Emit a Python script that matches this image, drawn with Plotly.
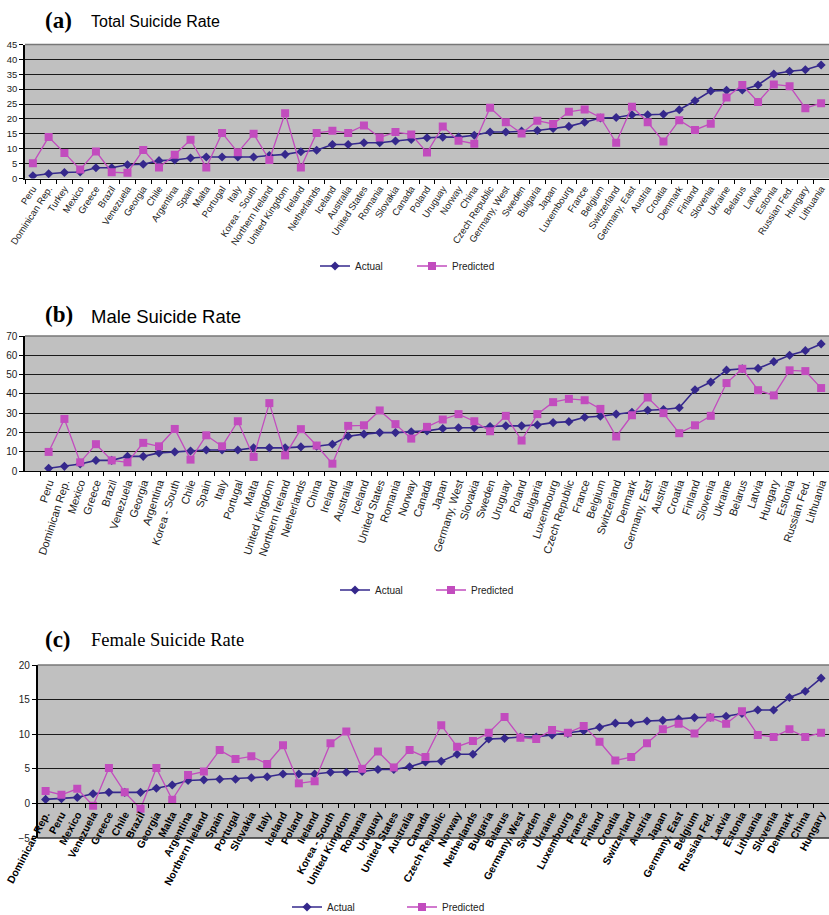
import plotly.graph_objects as go

W, H = 829, 915

# ---------------- Panel (a): Total ----------------
cats_total = ["Peru", "Dominican Rep.", "Turkey", "Mexico", "Greece", "Brazil", "Venezuela",
              "Georgia", "Chile", "Argentina", "Spain", "Malta", "Portugal", "Italy",
              "Korea - South", "Northern Ireland", "United Kingdom", "Ireland", "Netherlands",
              "Iceland", "Australia", "United States", "Romania", "Slovakia", "Canada", "Poland",
              "Uruguay", "Norway", "China", "Czech Republic", "Germany, West", "Sweden",
              "Bulgaria", "Japan", "Luxembourg", "France", "Belgium", "Switzerland",
              "Germany, East", "Austria", "Croatia", "Denmark", "Finland", "Slovenia",
              "Ukraine", "Belarus", "Latvia", "Estonia", "Russian Fed.", "Hungary", "Lithuania"]
total_actual = [0.9, 1.6, 2.0, 2.2, 3.6, 3.6, 4.6, 4.8, 6.0, 6.2, 6.9, 7.2, 7.2, 7.2, 7.2, 7.7,
                8.1, 9.0, 9.5, 11.4, 11.4, 12.0, 12.0, 12.6, 13.1, 13.7, 13.9, 13.9, 14.5, 15.6,
                15.6, 15.9, 16.1, 16.8, 17.5, 18.9, 20.3, 20.5, 21.4, 21.4, 21.6, 23.1, 26.1,
                29.4, 29.6, 29.7, 31.4, 35.1, 36.0, 36.5, 38.1]
total_pred = [5.1, 13.9, 8.6, 3.0, 9.1, 2.1, 1.9, 9.6, 3.7, 8.0, 13.0, 3.7, 15.3, 8.8, 15.0, 6.2,
              21.9, 3.7, 15.3, 16.0, 15.3, 17.8, 13.8, 15.6, 14.8, 8.7, 17.5, 12.7, 11.7, 23.8,
              18.9, 15.1, 19.4, 18.3, 22.4, 23.2, 20.5, 12.0, 24.1, 18.9, 12.4, 19.6, 16.3,
              18.4, 27.2, 31.4, 25.7, 31.6, 31.0, 23.6, 25.3]
total_yticks = [0, 5, 10, 15, 20, 25, 30, 35, 40, 45]

# ---------------- Panel (b): Male ----------------
cats_male = ["Peru", "Dominican Rep.", "Mexico", "Greece", "Brazil", "Venezuela", "Georgia",
             "Argentina", "Korea - South", "Chile", "Spain", "Italy", "Portugal", "Malta",
             "United Kingdom", "Northern Ireland", "Netherlands", "China", "Ireland",
             "Australia", "Iceland", "United States", "Romania", "Norway", "Canada", "Japan",
             "Germany, West", "Slovakia", "Sweden", "Uruguay", "Poland", "Bulgaria",
             "Luxembourg", "Czech Republic", "France", "Belgium", "Switzerland", "Denmark",
             "Germany, East", "Austria", "Croatia", "Finland", "Slovenia", "Ukraine", "Belarus",
             "Latvia", "Hungary", "Estonia", "Russian Fed.", "Lithuania"]
male_actual = [1.4, 2.4, 3.6, 5.5, 5.5, 7.6, 7.6, 9.4, 9.9, 10.4, 10.9, 10.9, 10.9, 12.0, 12.0,
               12.0, 12.5, 12.8, 13.9, 18.0, 19.1, 19.9, 19.9, 20.3, 20.8, 22.0, 22.4, 22.4,
               23.1, 23.4, 23.4, 23.9, 25.1, 25.6, 27.9, 28.4, 29.5, 30.5, 31.5, 31.9, 32.8,
               42.1, 46.1, 52.3, 53.0, 53.2, 56.7, 60.0, 62.4, 65.9]
male_pred = [9.9, 27.0, 4.5, 13.9, 5.5, 4.5, 14.6, 12.8, 21.8, 5.9, 18.5, 12.8, 25.8, 7.3, 35.2,
             8.1, 21.7, 13.2, 3.8, 23.4, 23.7, 31.4, 24.3, 16.8, 22.9, 26.7, 29.5, 25.8, 20.6,
             28.6, 15.8, 29.5, 35.7, 37.4, 36.7, 32.2, 17.9, 28.9, 38.1, 30.0, 19.6, 23.7,
             28.6, 45.6, 53.0, 41.9, 39.2, 52.2, 51.8, 43.0]
male_yticks = [0, 10, 20, 30, 40, 50, 60, 70]

# ---------------- Panel (c): Female ----------------
cats_female = ["Dominican Rep.", "Peru", "Mexico", "Venezuela", "Greece", "Chile", "Brazil",
               "Georgia", "Malta", "Argentina", "Northern Ireland", "Spain", "Portugal",
               "Slovakia", "Italy", "Iceland", "Poland", "Ireland", "Korea - South",
               "United Kingdom", "Romania", "Uruguay", "United States", "Australia", "Canada",
               "Czech Republic", "Norway", "Netherlands", "Bulgaria", "Belarus", "Germany, West",
               "Sweden", "Ukraine", "Luxembourg", "France", "Finland", "Croatia", "Switzerland",
               "Austria", "Japan", "Germany, East", "Belgium", "Russian Fed.", "Latvia",
               "Estonia", "Lithuania", "Slovenia", "Denmark", "China", "Hungary"]
female_actual = [0.58, 0.68, 0.87, 1.4, 1.6, 1.6, 1.6, 2.2, 2.65, 3.3, 3.4, 3.5, 3.5, 3.7,
                 3.85, 4.25, 4.25, 4.25, 4.5, 4.5, 4.6, 4.9, 4.9, 5.3, 6.0, 6.1, 7.1, 7.1, 9.3,
                 9.4, 9.6, 9.6, 9.9, 10.1, 10.5, 11.0, 11.6, 11.6, 11.9, 12.0, 12.2, 12.4, 12.45,
                 12.6, 13.0, 13.5, 13.5, 15.3, 16.2, 18.1]
female_pred = [1.8, 1.25, 2.1, -0.34, 5.1, 1.6, -0.77, 5.1, 0.53, 4.1, 4.6, 7.7, 6.4, 6.8, 5.7,
               8.4, 2.9, 3.2, 8.7, 10.4, 5.0, 7.5, 5.2, 7.7, 6.7, 11.3, 8.2, 9.0, 10.2, 12.5,
               9.5, 9.3, 10.6, 10.2, 11.2, 8.9, 6.2, 6.7, 8.7, 10.7, 11.5, 10.1, 12.4, 11.5,
               13.3, 9.9, 9.6, 10.7, 9.6, 10.2]
female_yticks = [-5, 0, 5, 10, 15, 20]

series_names = ["Actual", "Predicted"]

# ---------------- styling ----------------
C_ACT = "#35288C"
C_PRED = "#C24CBE"
BG = "#C0C0C0"
SANS = "Liberation Sans, Arial, sans-serif"
SERIF = "Liberation Serif, Times New Roman, serif"


def px_x(p):
    return p / W


def px_y(p):
    return 1 - p / H


fig = go.Figure()

panels = [
    dict(cats=cats_total, act=total_actual, pred=total_pred, ax="", leg="legend"),
    dict(cats=cats_male, act=male_actual, pred=male_pred, ax="2", leg="legend2"),
    dict(cats=cats_female, act=female_actual, pred=female_pred, ax="3", leg="legend3"),
]

for p in panels:
    fig.add_trace(go.Scatter(
        x=p["cats"], y=p["act"], name=series_names[0], mode="lines+markers",
        xaxis="x" + p["ax"], yaxis="y" + p["ax"], legend=p["leg"],
        line=dict(color=C_ACT, width=1.6),
        marker=dict(symbol="diamond", size=7, color=C_ACT)))
    fig.add_trace(go.Scatter(
        x=p["cats"], y=p["pred"], name=series_names[1], mode="lines+markers",
        xaxis="x" + p["ax"], yaxis="y" + p["ax"], legend=p["leg"],
        line=dict(color=C_PRED, width=1.3),
        marker=dict(symbol="square", size=8, color=C_PRED)))

# pixel boxes of plotting areas
box_a = dict(x0=25, x1=829, y0=44.5, y1=178.5)
box_b = dict(x0=25, x1=829, y0=336, y1=471)
box_c = dict(x0=37.7, x1=829, y0=665, y1=838)


def dom_x(b):
    return [px_x(b["x0"]), min(1, px_x(b["x1"]))]


def dom_y(b):
    return [px_y(b["y1"]), px_y(b["y0"])]


common_x = dict(type="category", showgrid=False, zeroline=False, showline=True,
                linecolor="black", linewidth=1, ticks="outside", tickson="boundaries",
                ticklen=4, tickcolor="black", tickwidth=1, automargin=False)
common_y = dict(showgrid=True, gridcolor="#1a1a1a", gridwidth=1, zeroline=False,
                showline=True, linecolor="black", linewidth=1.5, ticks="outside",
                ticklen=4, tickcolor="black", automargin=False,
                tickfont=dict(family=SANS, size=10, color="#222"))

fig.update_layout(
    template="none",
    xaxis=dict(common_x, domain=dom_x(box_a), anchor="y", range=[-0.5, 50.5],
               tickangle=-57, tickfont=dict(family=SANS, size=9.5, color="#222")),
    yaxis=dict(common_y, domain=dom_y(box_a), anchor="x", range=[0, 45],
               tickvals=total_yticks, tickfont=dict(family=SANS, size=9.5, color="#222")),
    xaxis2=dict(common_x, domain=dom_x(box_b), anchor="y2", range=[-1.5, 49.5],
                tickangle=-72, tickfont=dict(family=SANS, size=11, color="#222")),
    yaxis2=dict(common_y, domain=dom_y(box_b), anchor="x2", range=[0, 70],
                tickvals=male_yticks),
    xaxis3=dict(common_x, domain=dom_x(box_c), anchor="free",
                position=px_y(box_c["y1"] - (box_c["y1"] - box_c["y0"]) * 5 / 25),
                range=[-0.5, 49.5], tickangle=-62,
                tickfont=dict(family=SANS, size=10.5, color="black", weight="bold")),
    yaxis3=dict(common_y, domain=dom_y(box_c), anchor="x3", range=[-5, 20],
                tickvals=female_yticks),
    plot_bgcolor=BG, paper_bgcolor="white",
    width=W, height=H, margin=dict(l=0, r=0, t=0, b=0, autoexpand=False),
    showlegend=True,
)

leg_common = dict(orientation="h", xanchor="left", yanchor="middle",
                  font=dict(family=SANS, size=10, color="#222"), bgcolor="rgba(0,0,0,0)",
                  itemwidth=30, tracegroupgap=0, borderwidth=0)
fig.update_layout(
    legend=dict(leg_common, x=px_x(315), y=px_y(266), entrywidth=52),
    legend2=dict(leg_common, x=px_x(335), y=px_y(590), entrywidth=51),
    legend3=dict(leg_common, x=px_x(287), y=px_y(907), entrywidth=70),
)

# borders (top gray, bottom for panel c)
shapes = []
for ax in ["", "2", "3"]:
    shapes.append(dict(type="line", xref="x%s domain" % ax, yref="y%s domain" % ax,
                       x0=0, x1=1, y0=1, y1=1, line=dict(color="#777", width=1.5)))
shapes.append(dict(type="line", xref="x3 domain", yref="y3 domain",
                   x0=0, x1=1, y0=0, y1=0, line=dict(color="#333", width=1.5)))
fig.update_layout(shapes=shapes)

# titles
titles = [("(a)", "Total Suicide Rate", 20, SANS, 16),
          ("(b)", "Male Suicide Rate", 315, SANS, 18.5),
          ("(c)", "Female Suicide Rate", 639, SERIF, 18.5)]
for lab, txt, yy, fam, fs in titles:
    fig.add_annotation(text="<b>%s</b>" % lab, xref="paper", yref="paper",
                       x=px_x(43), y=px_y(yy), xanchor="left", yanchor="middle",
                       showarrow=False, font=dict(family=SERIF, size=23, color="black"))
    fig.add_annotation(text=txt, xref="paper", yref="paper",
                       x=px_x(89), y=px_y(yy + 1), xanchor="left", yanchor="middle",
                       showarrow=False, font=dict(family=fam, size=fs, color="black"))

fig.write_html("out.html", config={"displayModeBar": False},
               post_script="document.body.style.margin='0';document.body.style.overflow='hidden';")
